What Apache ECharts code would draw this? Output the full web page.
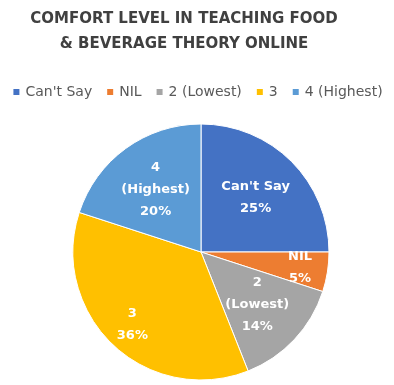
<!DOCTYPE html>
<html>
<head>
<meta charset="utf-8">
<style>
  html, body { margin: 0; padding: 0; background: #fff; }
  #chart { width: 394px; height: 385px; }
</style>
<script src="https://cdn.jsdelivr.net/npm/echarts@6/dist/echarts.min.js"></script>
</head>
<body>
<div id="chart"></div>
<script>
// Survey responses: comfort level teaching F&B theory online (percent)
const categories = ["Can't Say", 'NIL', '2 (Lowest)', '3', '4 (Highest)'];
const shares = [25, 5, 14, 36, 20];
const sliceColors = ['#4472C4', '#ED7D31', '#A5A5A5', '#FFC000', '#5B9BD5'];
// Label text lines shown inside each slice
const labelLines = [["Can't Say"], ['NIL'], ['2', '(Lowest)'], ['3'], ['4', '(Highest)']];
// Which slices get their label set further out (narrow or large slices)
const outerLabel = [false, true, false, true, false];

const CENTER = [201, 252];
const R = 128;

function sliceData(showFn, colorFn) {
  return categories.map((name, i) => ({
    name,
    value: shares[i],
    itemStyle: { color: colorFn(i) },
    label: { show: showFn(i) }
  }));
}

const labelStyle = {
  position: 'inside',
  color: '#fff',
  fontFamily: 'DejaVu Sans',
  fontWeight: 'bold',
  fontSize: 13,
  lineHeight: 22,
  formatter: p => labelLines[p.dataIndex].concat([p.value + '%']).join('\n')
};

// Transparent rings that only carry the slice labels at a chosen radius
function labelCarrier(innerRatio, showFn) {
  return {
    type: 'pie',
    center: CENTER,
    radius: [R * innerRatio, R],
    startAngle: 90,
    clockwise: true,
    silent: true,
    avoidLabelOverlap: false,
    labelLayout: { hideOverlap: false },
    itemStyle: { borderWidth: 0 },
    label: labelStyle,
    labelLine: { show: false },
    emphasis: { disabled: true },
    data: sliceData(showFn, () => 'rgba(0,0,0,0)')
  };
}

const chart = echarts.init(document.getElementById('chart'), null, { renderer: 'canvas' });
chart.setOption({
  animation: false,
  color: sliceColors,
  title: {
    text: 'COMFORT LEVEL IN TEACHING FOOD\n& BEVERAGE THEORY ONLINE',
    left: 179,
    top: 2,
    textAlign: 'center',
    textStyle: {
      fontFamily: 'DejaVu Sans',
      fontWeight: 'bold',
      fontSize: 15,
      lineHeight: 25,
      color: '#404040'
    }
  },
  legend: {
    data: categories,
    top: 80,
    left: 'center',
    icon: 'rect',
    itemWidth: 8,
    itemHeight: 8,
    itemGap: 13,
    textStyle: { fontFamily: 'DejaVu Sans', fontSize: 14, color: '#595959' }
  },
  series: [
    {
      type: 'pie',
      center: CENTER,
      radius: [0, R],
      startAngle: 90,
      clockwise: true,
      silent: true,
      label: { show: false },
      labelLine: { show: false },
      itemStyle: { borderColor: '#fff', borderWidth: 1 },
      emphasis: { disabled: true },
      data: sliceData(() => false, i => sliceColors[i])
    },
    labelCarrier(0.16, i => !outerLabel[i]),
    labelCarrier(0.52, i => outerLabel[i])
  ]
});
</script>
</body>
</html>
